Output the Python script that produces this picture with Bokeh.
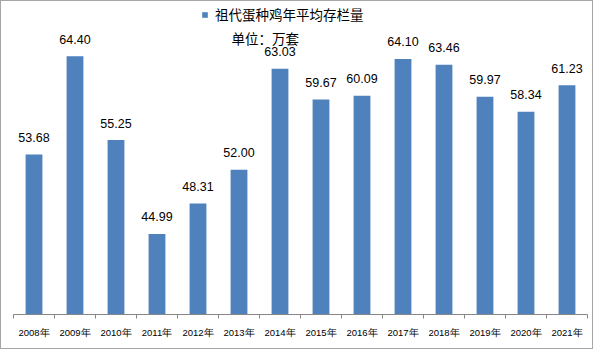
from bokeh.plotting import figure
from bokeh.models import FixedTicker, Legend, LegendItem, Label, Range1d, ColumnDataSource
from bokeh.core.properties import value
from bokeh.embed import file_html
from bokeh.resources import INLINE

years = ["2008年", "2009年", "2010年", "2011年", "2012年", "2013年", "2014年",
         "2015年", "2016年", "2017年", "2018年", "2019年", "2020年", "2021年"]
stock = [53.68, 64.40, 55.25, 44.99, 48.31, 52.00, 63.03,
         59.67, 60.09, 64.10, 63.46, 59.97, 58.34, 61.23]
series_name = "祖代蛋种鸡年平均存栏量"
unit_text = "单位：万套"

n = len(years)
centers = [i + 0.5 for i in range(n)]
src = ColumnDataSource(dict(x=centers, top=stock, lbl=[f"{v:.2f}" for v in stock]))

y0 = 36.19
p = figure(width=593, height=349, output_backend="svg", toolbar_location=None,
           x_range=Range1d(0, n), y_range=Range1d(y0, 70.38),
           min_border_left=12, min_border_right=7, min_border_top=0, min_border_bottom=36,
           y_axis_location=None, tools="")
p.styles = {"border": "1px solid #a6a6a6"}
p.outline_line_color = None
p.xgrid.visible = False
p.ygrid.visible = False
p.background_fill_color = "white"
p.border_fill_color = "white"

bars = p.vbar(x="x", top="top", bottom=y0, width=0.41, source=src,
              fill_color="#4F81BD", line_color=None)

p.text(x="x", y="top", text="lbl", source=src, text_align="center",
       text_baseline="middle", y_offset=-17, text_font=value("Liberation Sans"),
       text_font_size="12.5px", text_color="#000000")

ax = p.xaxis[0]
ax.ticker = FixedTicker(ticks=centers, minor_ticks=list(range(n + 1)))
ax.major_label_overrides = {c: y for c, y in zip(centers, years)}
ax.major_tick_out = 0
ax.major_tick_in = 0
ax.minor_tick_out = 4
ax.minor_tick_in = 0
ax.minor_tick_line_color = "#868686"
ax.axis_line_color = "#868686"
ax.major_label_standoff = 8
ax.major_label_text_font = "Liberation Sans"
ax.major_label_text_font_size = "9.5px"
ax.major_label_text_color = "#000000"

legend = Legend(items=[LegendItem(label=series_name, renderers=[bars])],
                location=(188, 290), orientation="horizontal",
                glyph_width=7, glyph_height=7, label_standoff=7, padding=0, margin=0,
                spacing=0, label_height=14, border_line_alpha=0, background_fill_alpha=0,
                label_text_font="Noto Sans CJK SC", label_text_font_size="13.5px",
                label_text_color="#000000")
p.add_layout(legend, "center")

p.add_layout(Label(x=218, y=277, x_units="screen", y_units="screen", text=unit_text,
                   text_baseline="middle", text_font="Noto Sans CJK SC",
                   text_font_size="13.5px", text_color="#000000"))

open("out.html", "w").write(file_html(p, INLINE))
